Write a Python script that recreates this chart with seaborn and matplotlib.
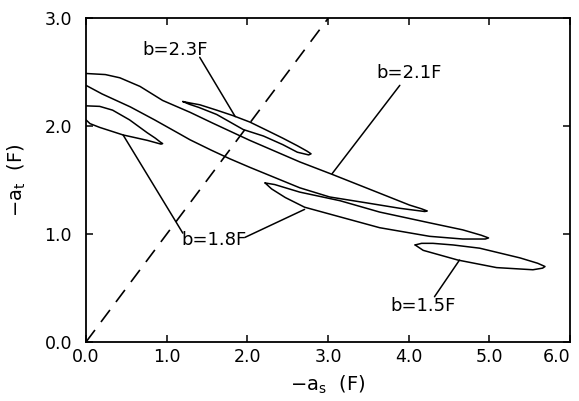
import pandas as pd
import numpy as np
import matplotlib
matplotlib.use("Agg")
import matplotlib.pyplot as plt
import seaborn as sns

"""
Contour outlines read off the figure, in (-a_s, -a_t) units of F
each loop: upper edge left->right then lower edge back
"""
loop_21_x = [0.0, 0.24, 0.42, 0.67, 0.95, 1.29, 1.57, 2.03, 2.65, 3.05, 3.64, 4.01, 4.16, 4.23,
             4.20, 3.89, 3.48, 3.02, 2.65, 2.03, 1.78, 1.55, 1.29, 1.16, 0.85, 0.55, 0.20, 0.0]
loop_21_y = [2.49, 2.48, 2.45, 2.37, 2.24, 2.13, 2.03, 1.87, 1.67, 1.555, 1.38, 1.27, 1.235, 1.215,
             1.21, 1.24, 1.29, 1.345, 1.43, 1.62, 1.70, 1.78, 1.875, 1.93, 2.06, 2.18, 2.30, 2.38]

loop_23_x = [1.20, 1.30, 1.41, 1.62, 1.82, 2.03, 2.25, 2.44, 2.62, 2.74, 2.79,
             2.76, 2.62, 2.44, 2.20, 1.95, 1.62, 1.40, 1.28, 1.20]
loop_23_y = [2.23, 2.215, 2.20, 2.15, 2.10, 2.04, 1.96, 1.89, 1.82, 1.77, 1.745,
             1.735, 1.76, 1.83, 1.91, 1.97, 2.11, 2.175, 2.205, 2.23]

loop_18a_x = [0.0, 0.17, 0.33, 0.54, 0.76, 0.86, 0.92, 0.95,
              0.93, 0.76, 0.46, 0.17, 0.05, 0.0]
loop_18a_y = [2.19, 2.185, 2.15, 2.06, 1.94, 1.89, 1.855, 1.84,
              1.835, 1.87, 1.92, 1.99, 2.025, 2.06]

loop_18b_x = [2.22, 2.34, 2.65, 3.15, 3.64, 4.26, 4.67, 4.90, 4.99,
              4.95, 4.67, 4.26, 3.64, 3.15, 2.71, 2.47, 2.30, 2.22]
loop_18b_y = [1.475, 1.46, 1.39, 1.31, 1.205, 1.105, 1.04, 0.99, 0.965,
              0.955, 0.955, 0.98, 1.06, 1.16, 1.25, 1.34, 1.42, 1.475]

loop_15_x = [4.08, 4.16, 4.30, 4.55, 4.88, 5.38, 5.60, 5.69,
             5.66, 5.54, 5.09, 4.61, 4.18, 4.08]
loop_15_y = [0.90, 0.915, 0.915, 0.90, 0.87, 0.78, 0.73, 0.70,
             0.685, 0.67, 0.69, 0.76, 0.85, 0.90]

diag_x = [0.0, 3.0]
diag_y = [0.0, 3.0]

# labels and their leader lines
label_text = ["b=2.3F", "b=2.1F", "b=1.8F", "b=1.5F"]
label_x = [1.10, 4.00, 1.59, 4.18]
label_y = [2.71, 2.49, 0.95, 0.33]
leader_x0 = [1.41, 3.89, 1.20, 1.97, 4.32]
leader_y0 = [2.64, 2.38, 1.01, 0.97, 0.42]
leader_x1 = [1.85, 3.05, 0.46, 2.71, 4.63]
leader_y1 = [2.09, 1.56, 1.92, 1.23, 0.76]

ticks = [0.0, 1.0, 2.0, 3.0, 4.0, 5.0, 6.0]
yticks = [0.0, 1.0, 2.0, 3.0]


def build_frame():
    parts = []
    for name, xs, ys in [("2.1", loop_21_x, loop_21_y), ("2.3", loop_23_x, loop_23_y),
                         ("1.8a", loop_18a_x, loop_18a_y), ("1.8b", loop_18b_x, loop_18b_y),
                         ("1.5", loop_15_x, loop_15_y)]:
        parts.append(pd.DataFrame({"x": xs, "y": ys, "loop": name, "order": range(len(xs))}))
    for i in range(len(leader_x0)):
        parts.append(pd.DataFrame({"x": [leader_x0[i], leader_x1[i]], "y": [leader_y0[i], leader_y1[i]],
                                   "loop": "lead%d" % i, "order": [0, 1]}))
    return pd.concat(parts, ignore_index=True)


if __name__ == '__main__':
    sns.set_style("ticks")
    plt.rcParams['font.family'] = ['DejaVu Sans']
    plt.rcParams['mathtext.default'] = 'regular'
    plt.rcParams['text.color'] = 'black'
    plt.rcParams['axes.labelcolor'] = 'black'
    plt.rcParams['xtick.color'] = 'black'
    plt.rcParams['ytick.color'] = 'black'
    plt.rcParams['axes.edgecolor'] = 'black'

    df = build_frame()
    fig = plt.figure(figsize=(5.79, 4.01), dpi=100)
    ax = fig.add_axes([0.1485, 0.1471, 0.836, 0.8068])

    sns.lineplot(data=df, x="x", y="y", units="loop", estimator=None, sort=False,
                 color="black", lw=1.1, ax=ax, legend=False, solid_joinstyle="round")
    sns.lineplot(x=diag_x, y=diag_y, color="black", lw=1.2, ax=ax)
    ax.lines[-1].set_dashes([9, 6])

    for t, x, y in zip(label_text, label_x, label_y):
        ax.text(x, y, t, fontsize=13, ha="center", va="center")

    ax.set_xlim(0, 6)
    ax.set_ylim(0, 3)
    ax.set_xticks(ticks)
    ax.set_yticks(yticks)
    ax.set_xticklabels(["%.1f" % t for t in ticks])
    ax.set_yticklabels(["%.1f" % t for t in yticks])
    ax.tick_params(direction="in", top=True, right=True, length=5, width=1.1,
                   labelsize=12.5, pad=4)
    ax.tick_params(axis="y", pad=10)
    ax.get_xticklabels()[-1].set_horizontalalignment("right")
    ax.get_xticklabels()[-1].set_x(6.0)
    for s in ax.spines.values():
        s.set_linewidth(1.3)
    ax.set_xlabel("$-a_s$  (F)", fontsize=14, labelpad=6)
    ax.set_ylabel("$-a_t$  (F)", fontsize=14, labelpad=12)

    fig.savefig("out.png", dpi=100)
